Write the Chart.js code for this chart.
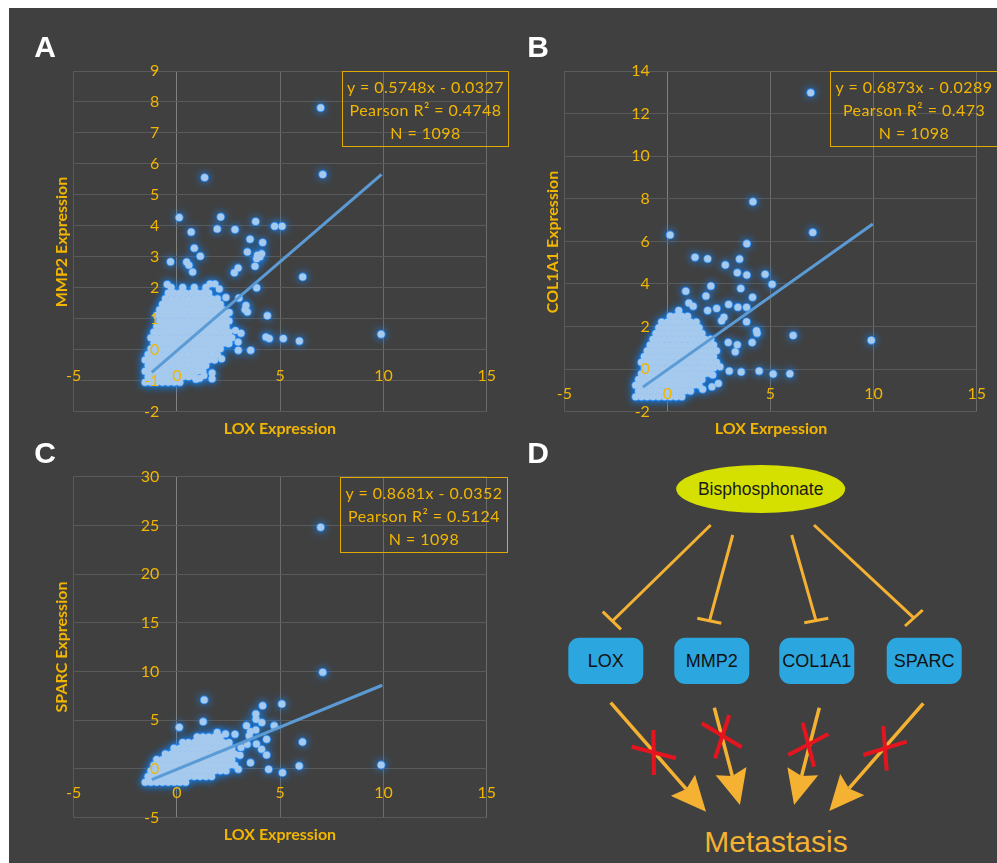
<!DOCTYPE html>
<html>
<head>
<meta charset="utf-8">
<script src="https://cdn.jsdelivr.net/npm/chart.js@4.4.0/dist/chart.umd.min.js"></script>
<style>
body { margin: 0; background: #fff; width: 997px; height: 863px; position: relative; overflow: hidden; font-family: Lato, sans-serif; }
#panel { position: absolute; left: 9px; top: 8px; width: 988px; height: 855px; background: #404040; }
canvas { position: absolute; }
.letter { position: absolute; color: #fff; font: bold 30px "Liberation Sans", Arial, sans-serif; transform: translate(-50%, -50%); }
.axt { position: absolute; color: #f2b600; font: bold 16px Lato, sans-serif; white-space: nowrap; transform: translate(-50%, -50%); }
.axt.v { transform: translate(-50%, -50%) rotate(-90deg); }
.eq { position: absolute; border: 1.5px solid #e2a900; color: #f2b600; font: 16px Lato, sans-serif; letter-spacing: 0.45px;
      line-height: 23px; text-align: center; box-sizing: border-box; display: flex; flex-direction: column; justify-content: center; white-space: nowrap; }
svg { position: absolute; left: 0; top: 0; }
</style>
</head>
<body>
<div id="panel"></div>

<svg width="997" height="863" font-family="'Liberation Sans', Arial, sans-serif">
  <defs>
    <marker id="head" markerUnits="userSpaceOnUse" markerWidth="36" markerHeight="32" refX="5" refY="16" orient="auto">
      <path d="M0,0 L35,16 L0,32 L5,16 Z" fill="#f5b232"/>
    </marker>
  </defs>
  <ellipse cx="760.7" cy="489" rx="84.5" ry="24" fill="#d5df00"/>
  <text x="760.7" y="490" text-anchor="middle" dominant-baseline="middle" font-size="17.5" fill="#1a1a1a">Bisphosphonate</text>

  <g stroke="#f5b232" stroke-width="3" fill="none">
    <line x1="710.7" y1="525" x2="612.7" y2="620.7"/>
    <line x1="602.7" y1="611.7" x2="621" y2="629.3"/>
    <line x1="732.7" y1="535" x2="709.3" y2="621.7"/>
    <line x1="697.3" y1="618.3" x2="721.3" y2="623.3"/>
    <line x1="791.7" y1="535" x2="816" y2="620.7"/>
    <line x1="804.3" y1="622.7" x2="828.3" y2="618.3"/>
    <line x1="814" y1="525" x2="914.3" y2="618.3"/>
    <line x1="905" y1="626" x2="922.7" y2="610"/>
  </g>

  <g fill="#2ba6df">
    <rect x="568.3" y="637.7" width="75" height="46.3" rx="11"/>
    <rect x="674.3" y="637.7" width="75" height="46.3" rx="11"/>
    <rect x="779.3" y="637.7" width="75" height="46.3" rx="11"/>
    <rect x="886.7" y="637.7" width="75" height="46.3" rx="11"/>
  </g>
  <g font-size="18" fill="#111" text-anchor="middle" dominant-baseline="middle">
    <text x="605.8" y="662">LOX</text>
    <text x="711.8" y="662">MMP2</text>
    <text x="816.8" y="662">COL1A1</text>
    <text x="924.2" y="662">SPARC</text>
  </g>

  <g stroke="#f5b232" stroke-width="3.5" fill="none" marker-end="url(#head)">
    <line x1="610.7" y1="702.7" x2="686.3" y2="789.1"/>
    <line x1="714.3" y1="707.7" x2="732.3" y2="776"/>
    <line x1="819.3" y1="707.7" x2="801.6" y2="776"/>
    <line x1="923.3" y1="703.3" x2="849" y2="788.4"/>
  </g>

  <g stroke="#e4151f" stroke-width="4">
    <line x1="653.3" y1="730" x2="654" y2="775"/>
    <line x1="631.7" y1="746.7" x2="676" y2="758.3"/>
    <line x1="701.7" y1="723.3" x2="741.7" y2="747.3"/>
    <line x1="729.3" y1="715" x2="715" y2="758.3"/>
    <line x1="788.3" y1="755" x2="828.3" y2="734"/>
    <line x1="802.7" y1="722.7" x2="814" y2="766.7"/>
    <line x1="863.3" y1="755" x2="906.7" y2="741.7"/>
    <line x1="883.3" y1="726" x2="886.7" y2="770.7"/>
  </g>

  <text x="776" y="844" text-anchor="middle" dominant-baseline="middle" font-size="30" fill="#f5b232">Metastasis</text>
</svg>

<canvas id="chartA" width="473" height="381" style="left:44px;top:51px"></canvas>
<canvas id="chartB" width="473" height="381" style="left:534px;top:51px"></canvas>
<canvas id="chartC" width="473" height="382" style="left:44px;top:456px"></canvas>

<div class="letter" style="left:45px;top:47px">A</div>
<div class="letter" style="left:538px;top:47px">B</div>
<div class="letter" style="left:45px;top:453px">C</div>
<div class="letter" style="left:538px;top:453px">D</div>

<div class="axt v" style="left:60px;top:242px">MMP2 Expression</div>
<div class="axt" style="left:280px;top:427px">LOX Expression</div>
<div class="axt v" style="left:551px;top:242px">COL1A1 Expression</div>
<div class="axt" style="left:771px;top:427px">LOX Exrpession</div>
<div class="axt v" style="left:60px;top:647px">SPARC Expression</div>
<div class="axt" style="left:280px;top:833px">LOX Expression</div>

<div class="eq" style="left:342px;top:71px;width:167px;height:76px"><div>y = 0.5748x - 0.0327</div><div>Pearson R² = 0.4748</div><div>N = 1098</div></div>
<div class="eq" style="left:830px;top:71px;width:168px;height:76px"><div>y = 0.6873x - 0.0289</div><div>Pearson R² = 0.473</div><div>N = 1098</div></div>
<div class="eq" style="left:340px;top:477px;width:168px;height:76px"><div>y = 0.8681x - 0.0352</div><div>Pearson R² = 0.5124</div><div>N = 1098</div></div>

<script>
const GOLD = '#f2b600';

const loxTicks = [-5, 0, 5, 10, 15];
const mmp2Ticks = [-2, -1, 0, 1, 2, 3, 4, 5, 6, 7, 8, 9];
const col1a1Ticks = [-2, 0, 2, 4, 6, 8, 10, 12, 14];
const sparcTicks = [-5, 0, 5, 10, 15, 20, 25, 30];

// trendline end points (Excel linear fit, over the LOX range)
const mmp2Trend = [[-1.22, -0.734], [9.91, 5.664]];
const col1a1Trend = [[-1.19, -0.847], [9.96, 6.817]];
const sparcTrend = [[-1.22, -1.094], [9.94, 8.594]];

// scattered samples, [lox, value]
const mmp2Scatter = [
  [6.96,7.81],[7.06,5.66],[1.34,5.56],[0.11,4.27],[2.12,4.29],[1.95,3.90],[2.81,3.88],[3.81,4.14],[4.73,3.99],[5.09,3.99],
  [0.69,3.80],[3.54,3.57],[4.15,3.46],[0.84,3.28],[1.13,3.02],[-0.31,2.84],[3.41,3.16],[4.10,3.10],[3.86,2.94],[4.02,3.00],
  [3.90,3.05],[3.78,2.70],[2.96,2.64],[2.78,2.49],[6.09,2.35],[3.86,2.00],[0.47,2.83],[0.58,2.73],[0.76,2.51],[-0.47,2.11],
  [4.38,1.10],[3.34,1.43],[3.41,1.22],[3.30,1.30],[4.31,0.41],[4.47,0.36],[5.15,0.36],[5.93,0.28],[9.89,0.50],[2.97,-0.02],
  [3.57,-0.02],[2.96,0.25],[2.83,0.62],[2.49,0.19],[2.16,-0.29],[1.70,-0.75],[1.70,-0.94],[1.31,-0.83],[0.92,-0.95],[3.10,0.53],
  [2.53,1.20],[3.00,1.67],[1.60,2.12],[1.84,2.12],[2.05,1.96],[2.37,1.69],[1.10,-0.92]
];
const col1a1Scatter = [
  [6.95,12.98],[4.15,7.86],[7.05,6.42],[0.13,6.30],[3.85,5.89],[1.34,5.25],[1.95,5.18],[3.50,5.17],[2.81,4.89],[3.39,4.53],
  [3.85,4.42],[4.74,4.45],[2.11,3.90],[3.56,3.79],[5.08,3.98],[0.89,3.66],[4.13,3.37],[1.87,3.43],[2.97,3.04],[3.42,2.91],
  [3.84,2.90],[2.39,2.85],[1.95,2.75],[2.74,2.43],[2.63,2.27],[3.84,2.22],[6.10,1.58],[9.89,1.35],[4.35,1.68],[4.32,1.80],
  [4.11,1.25],[3.39,1.14],[2.95,1.25],[3.29,0.81],[3.00,-0.09],[3.58,-0.13],[4.45,-0.09],[5.13,-0.23],[5.94,-0.22],[2.47,-0.67],
  [2.16,-0.83],[1.71,-0.95],[2.55,0.11],[2.20,-0.28],[1.04,3.10],[1.25,2.95],[0.55,2.75]
];
const sparcScatter = [
  [6.96,24.8],[7.06,9.92],[1.32,7.09],[5.08,6.68],[4.15,6.50],[3.82,5.65],[1.27,4.86],[0.11,4.28],[3.83,5.10],[4.11,4.76],
  [3.37,4.45],[4.71,4.45],[3.56,3.84],[3.82,4.00],[2.81,3.56],[4.34,3.05],[6.08,2.77],[3.40,2.53],[3.85,2.57],[4.10,2.02],
  [4.34,1.44],[3.56,0.65],[4.44,-0.03],[5.11,-0.38],[5.92,0.31],[9.89,0.41],[2.97,-0.03],[2.56,0.65],[3.10,2.20],[3.50,3.40],
  [2.35,3.60],[1.95,3.75],[3.05,1.40]
];

// dense cluster near the origin, read row by row: [value, [lox, lox, ...]]
const mmp2Cluster = [
  [-1.05, [-1.54,-1.26,-0.98,-0.70,-0.42,-0.14,0.14]],
  [-0.87, [-1.40,-1.12,-0.84,-0.56,-0.28,0.00,0.28,0.56,0.84]],
  [-0.69, [-1.54,-1.26,-0.98,-0.70,-0.42,-0.14,0.14,0.42,0.70,0.98,1.26]],
  [-0.51, [-1.40,-1.12,-0.84,-0.56,-0.28,0.00,0.28,0.56,0.84,1.12,1.40]],
  [-0.33, [-1.54,-1.26,-0.98,-0.70,-0.42,-0.14,0.14,0.42,0.70,0.98,1.26,1.54,1.82]],
  [-0.15, [-1.40,-1.12,-0.84,-0.56,-0.28,0.00,0.28,0.56,0.84,1.12,1.40,1.68,1.96]],
  [0.03, [-1.26,-0.98,-0.70,-0.42,-0.14,0.14,0.42,0.70,0.98,1.26,1.54,1.82,2.10]],
  [0.21, [-1.12,-0.84,-0.56,-0.28,0.00,0.28,0.56,0.84,1.12,1.40,1.68,1.96,2.24,2.52]],
  [0.39, [-1.26,-0.98,-0.70,-0.42,-0.14,0.14,0.42,0.70,0.98,1.26,1.54,1.82,2.10,2.38,2.66]],
  [0.57, [-1.12,-0.84,-0.56,-0.28,0.00,0.28,0.56,0.84,1.12,1.40,1.68,1.96,2.24,2.52]],
  [0.75, [-0.98,-0.70,-0.42,-0.14,0.14,0.42,0.70,0.98,1.26,1.54,1.82,2.10,2.38]],
  [0.93, [-0.84,-0.56,-0.28,0.00,0.28,0.56,0.84,1.12,1.40,1.68,1.96,2.24,2.52]],
  [1.11, [-0.98,-0.70,-0.42,-0.14,0.14,0.42,0.70,0.98,1.26,1.54,1.82,2.10,2.38]],
  [1.29, [-0.84,-0.56,-0.28,0.00,0.28,0.56,0.84,1.12,1.40,1.68,1.96,2.24]],
  [1.47, [-0.70,-0.42,-0.14,0.14,0.42,0.70,0.98,1.26,1.54,1.82,2.10]],
  [1.65, [-0.56,-0.28,0.00,0.28,0.56,0.84,1.12,1.40,1.68,1.96]],
  [1.83, [-0.42,-0.14,0.14,0.42,0.70,0.98,1.26,1.54]],
  [2.01, [-0.28,0.28,0.84,1.40]]
];
const col1a1Cluster = [
  [-1.30, [-1.54,-1.26,-0.98,-0.70,-0.42,-0.14,0.14,0.42,0.70]],
  [-1.03, [-1.40,-1.12,-0.84,-0.56,-0.28,0.00,0.28,0.56,0.84,1.12]],
  [-0.76, [-1.54,-1.26,-0.98,-0.70,-0.42,-0.14,0.14,0.42,0.70,0.98,1.26,1.54]],
  [-0.49, [-1.40,-1.12,-0.84,-0.56,-0.28,0.00,0.28,0.56,0.84,1.12,1.40,1.68]],
  [-0.22, [-1.26,-0.98,-0.70,-0.42,-0.14,0.14,0.42,0.70,0.98,1.26,1.54,1.82,2.10]],
  [0.05, [-1.12,-0.84,-0.56,-0.28,0.00,0.28,0.56,0.84,1.12,1.40,1.68,1.96,2.24]],
  [0.32, [-1.26,-0.98,-0.70,-0.42,-0.14,0.14,0.42,0.70,0.98,1.26,1.54,1.82,2.10,2.38]],
  [0.59, [-1.12,-0.84,-0.56,-0.28,0.00,0.28,0.56,0.84,1.12,1.40,1.68,1.96,2.24]],
  [0.86, [-0.98,-0.70,-0.42,-0.14,0.14,0.42,0.70,0.98,1.26,1.54,1.82,2.10,2.38]],
  [1.13, [-0.84,-0.56,-0.28,0.00,0.28,0.56,0.84,1.12,1.40,1.68,1.96,2.24]],
  [1.40, [-0.70,-0.42,-0.14,0.14,0.42,0.70,0.98,1.26,1.54,1.82,2.10]],
  [1.67, [-0.56,-0.28,0.00,0.28,0.56,0.84,1.12,1.40,1.68]],
  [1.94, [-0.42,-0.14,0.14,0.42,0.70,0.98,1.26,1.54]],
  [2.21, [-0.28,0.00,0.28,0.56,0.84,1.12,1.40]],
  [2.48, [0.14,0.42,0.70,0.98]]
];
const sparcCluster = [
  [-1.35, [-1.54,-1.26,-0.98,-0.70,-0.42,-0.14,0.14,0.42]],
  [-0.77, [-1.40,-1.12,-0.84,-0.56,-0.28,0.00,0.28,0.56,0.84,1.12,1.40,1.68]],
  [-0.19, [-1.26,-0.98,-0.70,-0.42,-0.14,0.14,0.42,0.70,0.98,1.26,1.54,1.82,2.10,2.38]],
  [0.39, [-1.12,-0.84,-0.56,-0.28,0.00,0.28,0.56,0.84,1.12,1.40,1.68,1.96,2.24,2.52,2.80]],
  [0.97, [-0.98,-0.70,-0.42,-0.14,0.14,0.42,0.70,0.98,1.26,1.54,1.82,2.10,2.38,2.66]],
  [1.55, [-0.56,-0.28,0.00,0.28,0.56,0.84,1.12,1.40,1.68,1.96,2.24,2.52,2.80]],
  [2.13, [-0.14,0.14,0.42,0.70,0.98,1.26,1.54,1.82,2.10,2.38,2.66]],
  [2.71, [0.28,0.56,0.84,1.12,1.40,1.68,1.96,2.24,2.52]],
  [3.29, [0.98,1.26,1.54,1.82,2.10]]
];

function allPoints(scatter, cluster) {
  const pts = scatter.slice();
  cluster.forEach(([y, xs]) => xs.forEach(x => pts.push([x, y])));
  return pts;
}

// blue halo behind the points
const glowPlugin = {
  id: 'glow',
  beforeDatasetDraw(chart, args) {
    if (chart.data.datasets[args.index].glow) {
      chart.ctx.save();
      chart.ctx.shadowColor = 'rgba(25,135,255,1)';
      chart.ctx.shadowBlur = 8;
    }
  },
  afterDatasetDraw(chart, args) {
    if (chart.data.datasets[args.index].glow) chart.ctx.restore();
  }
};

function makeChart(id, points, trend, yTicks, yLabelAt, xPad, padding) {
  return new Chart(document.getElementById(id), {
    type: 'scatter',
    data: {
      datasets: [
        { type: 'line', data: trend, borderColor: '#5b9bd5', borderWidth: 3, pointRadius: 0, order: 0 },
        { data: points, backgroundColor: '#a6caee', borderWidth: 0, pointRadius: 3.5, order: 1 },
        { data: points, backgroundColor: '#2e8ef5', borderWidth: 0, pointRadius: 4.4, order: 2, glow: true }
      ]
    },
    options: {
      responsive: false,
      animation: false,
      layout: { padding: padding },
      plugins: { legend: { display: false }, tooltip: { enabled: false } },
      scales: {
        x: {
          type: 'linear',
          min: loxTicks[0],
          max: loxTicks[loxTicks.length - 1],
          position: { y: 0 },
          afterBuildTicks: axis => { axis.ticks = loxTicks.map(v => ({ value: v })); },
          ticks: { color: GOLD, font: { family: 'Lato', size: 16 }, padding: xPad, autoSkip: false, maxRotation: 0, z: 1 },
          grid: {
            drawTicks: false,
            color: ctx => ctx.tick.value === 0 ? '#828282' : (ctx.index === 0 ? '#5a5a5a' : '#6c6c6c')
          },
          border: { display: false }
        },
        y: {
          type: 'linear',
          min: yTicks[0],
          max: yTicks[yTicks.length - 1],
          position: { x: yLabelAt },
          afterBuildTicks: axis => { axis.ticks = yTicks.map(v => ({ value: v })); },
          ticks: { color: GOLD, font: { family: 'Lato', size: 16 }, padding: 0, autoSkip: false, z: 1 },
          grid: { drawTicks: false, color: '#5a5a5a' },
          border: { display: false }
        }
      }
    },
    plugins: [glowPlugin]
  });
}

makeChart('chartA', allPoints(mmp2Scatter, mmp2Cluster), mmp2Trend, mmp2Ticks, -0.86, 16,
  { left: 29.7, top: 20, right: 30.3, bottom: 20.3 });
makeChart('chartB', allPoints(col1a1Scatter, col1a1Cluster), col1a1Trend, col1a1Ticks, -0.85, 15.5,
  { left: 30.3, top: 20, right: 30.3, bottom: 20.3 });
makeChart('chartC', allPoints(sparcScatter, sparcCluster), sparcTrend, sparcTicks, -0.86, 14.5,
  { left: 29.7, top: 20.7, right: 30.3, bottom: 20.3 });
</script>
</body>
</html>
